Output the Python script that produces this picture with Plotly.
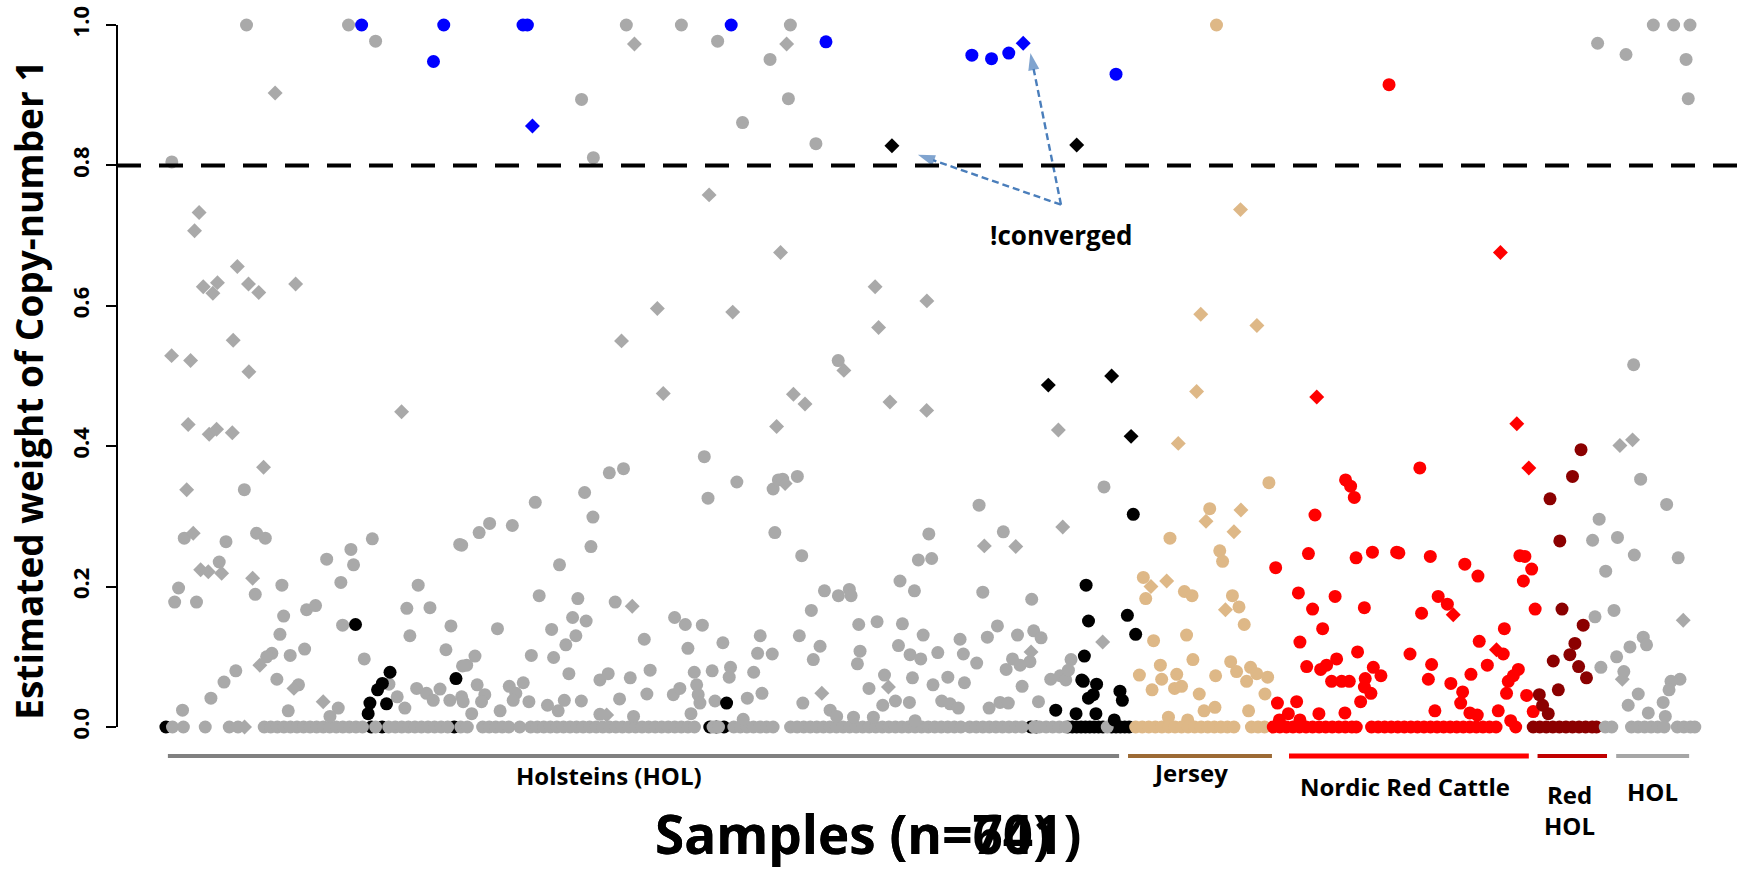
import plotly.graph_objects as go

# ---------------- data: (sample index, estimated weight of copy-number 1) ----------------
hol_gray_circles = [
    (37.9, 1.0), (84.6, 1.0), (97.0, 0.977), (211.8, 1.0), (237.0, 1.0), (253.6, 0.977), (191.3, 0.894),
    (265.0, 0.861), (3.7, 0.805), (196.7, 0.811), (286.9, 1.0), (277.6, 0.951), (286.0, 0.895), (298.6, 0.831),
    (308.8, 0.522),
    (36.9, 0.338), (9.4, 0.269), (28.5, 0.264), (42.5, 0.276), (46.5, 0.269), (95.5, 0.268), (135.5, 0.260),
    (25.4, 0.235), (74.6, 0.239), (85.7, 0.253), (86.9, 0.231), (81.1, 0.206), (6.8, 0.198), (5.0, 0.178),
    (15.0, 0.178), (41.9, 0.189), (54.1, 0.202), (116.5, 0.202), (65.4, 0.167), (69.5, 0.173), (54.9, 0.158),
    (111.3, 0.169), (121.9, 0.170), (81.9, 0.145), (131.5, 0.144), (53.2, 0.132), (112.7, 0.130), (129.2, 0.110),
    (49.5, 0.105), (47.1, 0.100), (57.9, 0.102), (64.5, 0.111), (91.8, 0.097), (136.8, 0.087), (33.0, 0.080),
    (27.6, 0.064), (21.6, 0.041), (51.8, 0.068), (61.7, 0.060), (103.1, 0.061), (115.8, 0.055), (120.3, 0.048),
    (126.5, 0.054), (106.9, 0.043), (110.4, 0.027), (123.4, 0.038), (131.0, 0.038), (136.4, 0.043), (57.0, 0.023),
    (8.6, 0.024), (79.9, 0.027), (76.1, 0.015),
    (247.5, 0.385), (204.0, 0.362), (210.5, 0.368), (262.4, 0.349), (279.0, 0.339), (281.4, 0.352), (249.2, 0.326),
    (192.7, 0.334), (170.1, 0.320), (196.5, 0.299), (149.2, 0.290), (144.4, 0.277), (159.6, 0.287), (136.4, 0.259),
    (279.8, 0.277), (195.6, 0.257), (181.2, 0.231), (171.9, 0.187), (189.6, 0.183), (206.7, 0.178), (187.2, 0.156),
    (193.4, 0.151), (152.8, 0.140), (177.6, 0.139), (188.7, 0.130), (184.1, 0.117), (233.9, 0.156), (238.8, 0.146),
    (246.6, 0.145), (220.0, 0.125), (240.0, 0.112), (256.0, 0.120), (273.1, 0.130), (271.9, 0.105), (278.6, 0.104),
    (168.3, 0.102), (178.5, 0.099), (142.5, 0.101), (138.7, 0.088), (185.5, 0.076), (199.7, 0.067), (203.5, 0.076),
    (213.6, 0.070), (222.7, 0.081), (242.9, 0.078), (251.1, 0.080), (259.5, 0.085), (258.9, 0.071), (270.1, 0.078),
    (158.2, 0.058), (164.6, 0.063), (161.2, 0.048), (143.5, 0.060), (147.0, 0.046), (145.5, 0.036), (137.1, 0.036),
    (160.0, 0.038), (167.2, 0.036), (154.0, 0.023), (141.0, 0.019), (175.7, 0.031), (180.6, 0.023), (183.4, 0.038),
    (191.2, 0.037), (208.7, 0.040), (221.2, 0.047), (233.3, 0.046), (236.3, 0.055), (244.0, 0.060), (244.7, 0.046),
    (245.5, 0.034), (241.4, 0.019), (252.4, 0.037), (267.2, 0.041), (273.9, 0.048), (199.7, 0.018), (215.1, 0.015),
    (265.3, 0.011),
    (290.1, 0.357), (283.4, 0.353), (373.3, 0.316), (350.3, 0.275), (384.4, 0.278), (345.5, 0.238), (351.6, 0.240),
    (292.1, 0.244), (337.1, 0.208), (343.7, 0.194), (302.5, 0.194), (308.9, 0.187), (313.9, 0.196), (314.7, 0.187),
    (375.0, 0.192), (397.4, 0.182), (296.5, 0.166), (318.2, 0.146), (326.6, 0.150), (338.2, 0.147), (291.0, 0.130),
    (300.5, 0.115), (297.4, 0.096), (347.7, 0.131), (377.1, 0.128), (381.7, 0.144), (390.9, 0.131), (398.3, 0.137),
    (401.7, 0.127), (364.6, 0.125), (318.8, 0.108), (317.6, 0.090), (336.4, 0.116), (341.7, 0.103), (346.6, 0.097),
    (354.4, 0.106), (366.1, 0.104), (372.2, 0.091), (388.6, 0.097), (385.7, 0.082), (392.1, 0.088), (396.6, 0.093),
    (415.4, 0.096), (406.1, 0.068), (410.4, 0.073), (413.0, 0.067), (414.2, 0.081), (330.0, 0.074), (322.9, 0.055),
    (342.8, 0.070), (352.2, 0.060), (359.0, 0.071), (366.6, 0.063), (393.0, 0.058), (292.6, 0.034), (305.1, 0.024),
    (308.1, 0.015), (315.8, 0.014), (324.9, 0.014), (329.2, 0.031), (335.0, 0.037), (341.4, 0.035), (356.2, 0.037),
    (360.0, 0.033), (363.8, 0.027), (377.9, 0.027), (382.9, 0.035), (386.7, 0.034), (400.5, 0.036), (344.0, 0.009),
    (430.5, 0.342),
]
hol_gray_zero = [
    (4, 0), (9, 0), (19, 0), (30, 0), (34, 0), (46, 0), (49, 0), (52, 0), (55, 0), (58, 0), (61, 0), (64, 0),
    (67, 0), (70, 0), (73, 0), (76, 0), (79, 0), (82, 0), (85, 0), (88, 0), (91, 0), (97, 0), (103, 0), (106, 0),
    (109, 0), (112, 0), (115, 0), (118, 0), (121, 0), (124, 0), (127, 0), (130, 0), (136, 0), (139, 0), (146, 0),
    (149, 0), (152, 0), (155, 0), (158, 0), (163, 0), (168, 0), (171, 0), (174, 0), (177, 0), (180, 0), (183, 0),
    (186, 0), (189, 0), (192, 0), (195, 0), (198, 0), (201, 0), (204, 0), (207, 0), (210, 0), (213, 0), (216, 0),
    (219, 0), (222, 0), (225, 0), (228, 0), (231, 0), (234, 0), (237, 0), (240, 0), (243, 0), (251.5, 0), (254, 0),
    (261, 0), (264, 0), (267, 0), (270, 0), (273, 0), (276, 0), (279, 0), (287, 0), (290, 0), (293, 0), (296, 0),
    (299, 0), (302, 0), (305, 0), (308, 0), (311, 0), (314, 0), (317, 0), (320, 0), (323, 0), (326, 0), (329, 0),
    (332, 0), (335, 0), (338, 0), (341, 0), (344, 0), (347, 0), (350, 0), (353, 0), (356, 0), (359, 0), (362, 0),
    (365, 0), (369, 0), (372, 0), (375, 0), (378, 0), (381, 0), (384, 0), (387, 0), (390, 0), (393, 0), (398.5, 0),
    (401, 0), (404, 0), (407, 0), (410, 0), (413, 0), (432, 0),
]
hol_gray_diamonds = [
    (215.5, 0.973), (51.0, 0.903), (249.7, 0.758), (16.2, 0.733), (14.1, 0.707), (33.7, 0.656), (18.1, 0.627),
    (24.6, 0.633), (22.5, 0.618), (38.8, 0.631), (43.5, 0.619), (60.4, 0.631), (285.2, 0.973), (282.4, 0.676),
    (325.7, 0.627), (3.6, 0.529), (12.3, 0.522), (31.8, 0.551), (39.0, 0.506), (226.0, 0.596), (209.6, 0.550),
    (260.5, 0.591), (311.4, 0.508), (327.3, 0.569), (349.4, 0.607),
    (108.9, 0.449), (11.2, 0.431), (20.8, 0.417), (24.2, 0.424), (31.4, 0.419), (45.7, 0.370), (10.5, 0.338),
    (13.5, 0.276), (16.9, 0.224), (20.4, 0.221), (26.5, 0.219), (40.7, 0.212), (44.0, 0.088), (73.0, 0.036),
    (59.6, 0.055), (228.7, 0.475), (280.6, 0.428), (214.5, 0.172), (202.8, 0.017), (288.3, 0.474), (293.6, 0.460),
    (332.5, 0.463), (349.3, 0.451), (409.6, 0.423), (284.5, 0.347), (411.6, 0.285), (375.7, 0.258), (390.1, 0.257),
    (397.1, 0.107), (331.8, 0.057), (301.3, 0.048), (429.9, 0.121), (37, 0),
]
hol_black_zero = [
    (1, 0), (95, 0), (100, 0), (133, 0), (250, 0), (253, 0), (256.5, 0), (397, 0), (399.5, 0), (414, 0), (416, 0),
    (418, 0), (420, 0), (422, 0), (424, 0), (426, 0), (428, 0), (430, 0), (434, 0), (436, 0), (438, 0), (440, 0),
    (442, 0),
]
hol_black_circles = [
    (87.8, 0.146), (103.6, 0.078), (100.1, 0.062), (97.9, 0.053), (94.4, 0.034), (93.6, 0.019), (102.0, 0.033),
    (133.8, 0.069), (257.7, 0.034), (422.3, 0.202), (423.4, 0.151), (421.5, 0.101), (420.3, 0.067), (423.4, 0.041),
    (408.4, 0.024), (417.7, 0.019), (443.9, 0.303), (441.2, 0.159), (445.0, 0.132), (427.1, 0.061), (425.6, 0.046),
    (437.8, 0.051), (438.9, 0.038), (426.8, 0.019), (435.2, 0.010), (421.0, 0.065),
]
hol_black_diamonds = [(333.4, 0.828), (418.0, 0.829), (405.0, 0.487), (434.0, 0.500), (442.9, 0.414)]
hol_blue_circles = [
    (90.6, 1.0), (128.2, 1.0), (123.5, 0.948), (164.5, 1.0), (166.5, 1.0), (259.8, 1.0), (303.2, 0.976),
    (370.0, 0.957), (379.0, 0.952), (386.9, 0.960), (436.0, 0.930),
]
hol_blue_diamonds = [(168.8, 0.856), (393.5, 0.974)]

jersey_circles = [
    (482.0, 1.0), (506.0, 0.348), (478.9, 0.311), (460.7, 0.269), (483.5, 0.251), (484.8, 0.236), (448.5, 0.213),
    (449.6, 0.183), (467.3, 0.193), (470.8, 0.187), (489.3, 0.187), (492.3, 0.171), (494.7, 0.146), (453.2, 0.123),
    (468.3, 0.131), (471.2, 0.096), (488.5, 0.093), (491.2, 0.079), (497.6, 0.085), (500.4, 0.076), (505.4, 0.071),
    (495.8, 0.065), (456.3, 0.088), (446.7, 0.074), (456.9, 0.068), (463.8, 0.075), (452.5, 0.053), (462.8, 0.055),
    (466.0, 0.058), (481.6, 0.073), (474.1, 0.047), (504.2, 0.047), (476.3, 0.023), (481.3, 0.028), (496.7, 0.023),
    (460.0, 0.014), (468.8, 0.010),
    (445, 0), (448, 0), (451, 0), (454, 0), (457, 0), (460, 0), (463, 0), (466, 0), (469, 0), (472, 0), (475, 0),
    (478, 0), (481, 0), (484, 0), (487, 0), (490, 0), (498, 0), (501, 0), (504, 0),
]
jersey_diamonds = [
    (493.0, 0.737), (474.8, 0.588), (500.5, 0.572), (472.9, 0.478), (464.5, 0.404), (477.2, 0.293), (493.2, 0.309),
    (490.0, 0.278), (452.0, 0.200), (459.2, 0.208), (486.1, 0.167),
]

nrc_circles = [
    (561.0, 0.915), (541.1, 0.352), (543.4, 0.343), (545.1, 0.327), (527.1, 0.302), (524.1, 0.247), (545.9, 0.241),
    (553.4, 0.249), (564.5, 0.249), (509.1, 0.227), (519.5, 0.191), (536.3, 0.186), (549.7, 0.170), (526.0, 0.168),
    (530.6, 0.140), (520.2, 0.121), (546.6, 0.107), (537.0, 0.097), (532.4, 0.088), (529.7, 0.082), (523.3, 0.086),
    (553.8, 0.085), (557.3, 0.073), (550.1, 0.069), (549.7, 0.057), (552.7, 0.048), (548.0, 0.036), (534.7, 0.065),
    (539.3, 0.065), (542.8, 0.065), (509.9, 0.034), (518.7, 0.036), (514.9, 0.019), (528.9, 0.019), (540.8, 0.020),
    (510.8, 0.010), (520.2, 0.010),
    (575.1, 0.369), (565.5, 0.248), (579.9, 0.243), (595.7, 0.232), (601.7, 0.215), (620.9, 0.244), (623.2, 0.243),
    (626.3, 0.225), (622.5, 0.208), (583.5, 0.186), (587.7, 0.175), (575.9, 0.162), (627.9, 0.168), (613.8, 0.140),
    (602.3, 0.122), (570.6, 0.104), (580.5, 0.089), (579.0, 0.068), (613.3, 0.104), (606.0, 0.088), (598.5, 0.075),
    (620.2, 0.082), (617.9, 0.073), (615.6, 0.065), (589.3, 0.062), (594.7, 0.050), (614.8, 0.048), (624.0, 0.045),
    (593.8, 0.034), (582.0, 0.023), (611.0, 0.023), (627.0, 0.022), (598.0, 0.020), (601.4, 0.017), (616.7, 0.009),
    (508, 0), (511, 0), (514, 0), (517, 0), (520, 0), (523, 0), (526, 0), (529, 0), (532, 0), (535, 0), (538, 0),
    (541, 0), (544, 0), (546, 0), (553, 0), (556, 0), (559, 0), (562, 0), (565, 0), (568, 0), (571, 0), (574, 0),
    (577, 0), (580, 0), (583, 0), (586, 0), (589, 0), (592, 0), (595, 0), (598, 0), (601, 0), (604, 0), (607, 0),
    (610, 0), (619, 0),
]
nrc_diamonds = [(612.0, 0.676), (527.9, 0.470), (619.5, 0.432), (625.0, 0.369), (590.4, 0.160), (610.2, 0.110)]

redhol_circles = [
    (648.9, 0.395), (645.0, 0.357), (634.7, 0.325), (639.2, 0.265), (640.2, 0.168), (649.9, 0.145), (646.1, 0.119),
    (643.8, 0.103), (636.2, 0.094), (647.8, 0.086), (651.4, 0.070), (638.5, 0.053), (629.8, 0.046), (631.3, 0.031),
    (633.9, 0.019),
    (627, 0), (630, 0), (633, 0), (636, 0), (639, 0), (642, 0), (645, 0), (648, 0), (651, 0), (654, 0), (656, 0),
]

hol2_circles = [
    (656.5, 0.974), (669.5, 0.958), (682.0, 1.0), (691.3, 1.0), (698.8, 1.0), (697.0, 0.951), (698.0, 0.895),
    (673.0, 0.516), (676.2, 0.353), (688.1, 0.317), (657.2, 0.296), (654.2, 0.266), (665.6, 0.270), (673.3, 0.245),
    (693.4, 0.241), (660.2, 0.222), (655.3, 0.157), (664.0, 0.166), (677.4, 0.128), (671.3, 0.114), (678.9, 0.117),
    (665.2, 0.100), (658.0, 0.085), (668.5, 0.079), (694.2, 0.068), (690.1, 0.065), (689.2, 0.053), (675.1, 0.047),
    (670.5, 0.031), (686.5, 0.035), (679.7, 0.020), (687.5, 0.015),
    (660, 0), (663, 0), (672, 0), (675, 0), (678, 0), (681, 0), (684, 0), (687, 0), (693, 0), (696, 0), (699, 0),
    (701, 0),
]
hol2_diamonds = [(666.7, 0.401), (672.5, 0.409), (695.7, 0.152), (667.8, 0.068)]

# group bars under the points (first / last sample covered by each bar)
group_names = ["Holsteins (HOL)", "Jersey", "Nordic Red Cattle", "Red<br>HOL", "HOL"]
group_bar_start = [1.9, 441.5, 515.2, 629.0, 665.0]
group_bar_end = [437.4, 507.4, 625.0, 660.8, 698.4]
group_label_pos = [203.8, 469.9, 568.3, 643.4, 681.4]

threshold = 0.8
y_ticks = [0.0, 0.2, 0.4, 0.6, 0.8, 1.0]
y_tick_labels = ["0.0", "0.2", "0.4", "0.6", "0.8", "1.0"]

# annotation "!converged": text position and arrow heads
conv_tail = (410.8, 0.744)
conv_heads = [(345.3, 0.815), (396.8, 0.960)]

# ---------------- styling ----------------
GRAY = "#a9a9a9"
TAN = "#deb887"
RED = "#ff0000"
DARKRED = "#8b0000"
BLUE = "#0000ff"
BLACK = "#000000"
FONT = "Open Sans"
CIRCLE = 13
DIAMOND = 11.5

fig = go.Figure()


def add_points(points, color, symbol, size):
    fig.add_trace(go.Scatter(
        x=[p[0] for p in points], y=[p[1] for p in points], mode="markers",
        marker=dict(color=color, symbol=symbol, size=size, line=dict(width=0)),
        showlegend=False, hoverinfo="skip"))


add_points(hol_black_zero, BLACK, "circle", CIRCLE)
add_points(hol_gray_zero, GRAY, "circle", CIRCLE)
add_points(hol_gray_circles, GRAY, "circle", CIRCLE)
add_points(hol_gray_diamonds, GRAY, "diamond", DIAMOND)
add_points(jersey_circles, TAN, "circle", CIRCLE)
add_points(jersey_diamonds, TAN, "diamond", DIAMOND)
add_points(nrc_circles, RED, "circle", CIRCLE)
add_points(nrc_diamonds, RED, "diamond", DIAMOND)
add_points(redhol_circles, DARKRED, "circle", CIRCLE)
add_points(hol2_circles, GRAY, "circle", CIRCLE)
add_points(hol2_diamonds, GRAY, "diamond", DIAMOND)
add_points(hol_black_circles, BLACK, "circle", CIRCLE)
add_points(hol_black_diamonds, BLACK, "diamond", DIAMOND)
add_points(hol_blue_circles, BLUE, "circle", CIRCLE)
add_points(hol_blue_diamonds, BLUE, "diamond", DIAMOND)

# dashed arrows to the non-converged samples
ARROW = "#4a7ebb"
for hx, hy in conv_heads:
    fig.add_trace(go.Scatter(
        x=[conv_tail[0], hx], y=[conv_tail[1], hy], mode="lines+markers",
        line=dict(color=ARROW, width=2.4, dash="7px,4px"),
        marker=dict(symbol="arrow", size=[0, 18], angleref="previous", color=ARROW, line=dict(width=0)),
        showlegend=False, hoverinfo="skip"))

shapes = []
# y axis line only between first and last tick
shapes.append(dict(type="line", xref="paper", yref="y", x0=0, x1=0, y0=y_ticks[0], y1=y_ticks[-1],
                   line=dict(color="black", width=2)))
# threshold
shapes.append(dict(type="line", xref="paper", yref="y", x0=0, x1=1, y0=threshold, y1=threshold,
                   line=dict(color="black", width=4, dash="24px,18px")))
bar_colors = ["#808080", "#9c6a35", "#ff0000", "#c00000", "#a6a6a6"]
bar_widths = [4, 4, 5, 4, 4]
for s0, s1, c, w in zip(group_bar_start, group_bar_end, bar_colors, bar_widths):
    shapes.append(dict(type="line", xref="x", yref="y", x0=s0, x1=s1, y0=-0.0413, y1=-0.0413,
                       line=dict(color=c, width=w)))

annotations = []
label_y = [0.031, 0.035, 0.0175, -0.012, 0.011]
for name, xpos, ly in zip(group_names, group_label_pos, label_y):
    annotations.append(dict(text=name, x=xpos, y=ly, xref="x", yref="paper", showarrow=False,
                            xanchor="center", yanchor="middle", align="center",
                            font=dict(family=FONT, size=24, color="black", weight="bold")))
annotations.append(dict(text="!converged", x=conv_tail[0], y=0.701, xref="x", yref="y", showarrow=False,
                        xanchor="center", yanchor="middle",
                        font=dict(family=FONT, size=26, color="black", weight="bold")))
annotations.append(dict(text="Estimated weight of Copy-number 1", x=-0.0545, y=0.5125, xref="paper",
                        yref="paper", textangle=-90, showarrow=False, xanchor="center", yanchor="middle",
                        font=dict(family=FONT, size=37, color="black", weight="bold")))
for t in ["Samples (n=701)", "Samples (n=64)"]:
    annotations.append(dict(text=t, x=0.3274, y=-0.042, xref="paper", yref="paper", showarrow=False,
                            xanchor="left", yanchor="middle",
                            font=dict(family=FONT, size=53, color="black", weight="bold")))

fig.update_layout(
    width=1760, height=870,
    margin=dict(l=117, r=6, t=0, b=70),
    paper_bgcolor="white", plot_bgcolor="white",
    xaxis=dict(range=[-21.4, 728.1], visible=False),
    yaxis=dict(range=[-0.104, 1.0356], tickvals=y_ticks, ticktext=y_tick_labels, tickangle=-90,
               ticks="outside", ticklen=10, tickwidth=2, tickcolor="black", showgrid=False,
               zeroline=False, showline=False, ticklabelstandoff=8,
               tickfont=dict(family=FONT, size=22, color="black", weight="bold")),
    shapes=shapes, annotations=annotations,
)

fig.write_html("out.html")
